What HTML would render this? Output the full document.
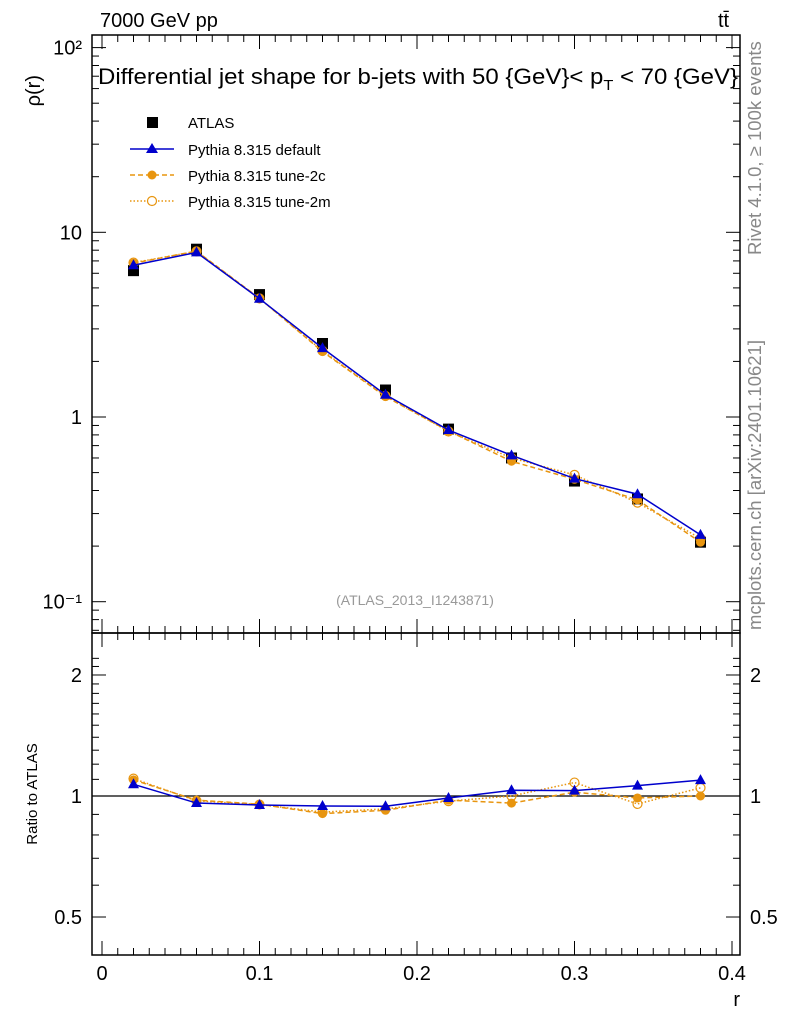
<!DOCTYPE html>
<html><head><meta charset="utf-8"><style>
body{margin:0;background:#fff}
svg{font-family:"Liberation Sans",sans-serif}
</style></head><body>
<svg id="c" width="786" height="1024" xmlns="http://www.w3.org/2000/svg">
<rect width="786" height="1024" fill="#fff"/>
<text x="100" y="27" font-size="20">7000 GeV pp</text>
<text x="718" y="27" font-size="20">tt̄</text>
<text x="98" y="84" font-size="22" textLength="640" lengthAdjust="spacingAndGlyphs">Differential jet shape for b-jets with 50 {GeV}&lt; p<tspan font-size="15" dy="6">T</tspan><tspan dy="-6"> &lt; 70 {GeV}</tspan></text>
<text x="415" y="605" font-size="14" fill="#999" text-anchor="middle">(ATLAS_2013_I1243871)</text>
<text transform="translate(761,255) rotate(-90)" font-size="18.5" fill="#888">Rivet 4.1.0, ≥ 100k events</text>
<text transform="translate(761,630) rotate(-90)" font-size="18.5" fill="#888">mcplots.cern.ch [arXiv:2401.10621]</text>
<text transform="translate(40,75) rotate(-90)" font-size="20" text-anchor="end">ρ(r)</text>
<text transform="translate(37,794) rotate(-90)" font-size="15" text-anchor="middle">Ratio to ATLAS</text>
<text x="740" y="1006" font-size="20" text-anchor="end">r</text>
<g id="legend">
<rect x="147" y="117" width="11" height="11" fill="#000"/>
<text x="188" y="128" font-size="15">ATLAS</text>
<line x1="130" y1="149" x2="174" y2="149" stroke="#00c" stroke-width="1.5"/>
<polygon points="152,143 158,153 146,153" fill="#00c"/>
<text x="188" y="155" font-size="15">Pythia 8.315 default</text>
<line x1="130" y1="175" x2="174" y2="175" stroke="#e8950f" stroke-width="1.5" stroke-dasharray="5,3"/>
<circle cx="152" cy="175" r="4.5" fill="#e8950f"/>
<text x="188" y="181" font-size="15">Pythia 8.315 tune-2c</text>
<line x1="130" y1="201" x2="174" y2="201" stroke="#e8950f" stroke-width="1.5" stroke-dasharray="1.5,2"/>
<circle cx="152" cy="201" r="4.5" fill="#fff" stroke="#e8950f" stroke-width="1.2"/>
<text x="188" y="207" font-size="15">Pythia 8.315 tune-2m</text>
</g>
<g id="g"></g>
</svg>
<script>
const rVals=[0.02,0.06,0.10,0.14,0.18,0.22,0.26,0.30,0.34,0.38];
const atlas=[6.2,8.1,4.6,2.5,1.4,0.86,0.6,0.45,0.36,0.21];
const pyDefault=[6.63,7.78,4.37,2.36,1.32,0.85,0.62,0.464,0.382,0.23];
const py2c=[6.8,7.91,4.39,2.26,1.29,0.84,0.576,0.46,0.356,0.21];
const py2m=[6.85,7.88,4.38,2.28,1.30,0.835,0.6,0.486,0.344,0.22];
const xTicks=[0,0.1,0.2,0.3,0.4];
const xTickLabels=["0","0.1","0.2","0.3","0.4"];
const yDecades=[-1,0,1,2];
const yDecadeLabels=["10⁻¹","1","10","10²"];
const ratioTicks=[0.5,1,2];
const ratioTickLabels=["0.5","1","2"];

const NS="http://www.w3.org/2000/svg";
const g=document.getElementById('g');
function el(t,a,p){const e=document.createElementNS(NS,t);for(const k in a)e.setAttribute(k,a[k]);(p||g).appendChild(e);return e;}
const L=92,R=740,T=35,MB=633,RB=955;
const X=v=>102+v*1575;
const Y=v=>417-Math.log10(v)*184.7;
const YR=v=>796-Math.log10(v)*402;

let f=el('rect',{x:L,y:T,width:R-L,height:MB-T,fill:'none',stroke:'#000','stroke-width':1.5});


f=el('rect',{x:L,y:MB,width:R-L,height:RB-MB,fill:'none',stroke:'#000','stroke-width':1.5});



for(let i=0;i<=41;i++){const v=i/100,x=X(v);if(x>R)break;const len=i%10==0?14:7;
 for(const[y0,d] of [[MB,-1],[T,1],[RB,-1],[MB,1]]) el('line',{x1:x,y1:y0,x2:x,y2:y0+d*len,stroke:'#000'});}
xTicks.forEach((v,i)=>{const t=el('text',{x:X(v),y:980,'font-size':20,'text-anchor':'middle'});t.textContent=xTickLabels[i];
 
 });
for(let d=-2;d<=2;d++)for(let m=1;m<10;m++){const v=m*Math.pow(10,d),y=Y(v);if(y<T||y>MB)continue;const len=m==1?14:7;
 el('line',{x1:L,y1:y,x2:L+len,y2:y,stroke:'#000'});el('line',{x1:R,y1:y,x2:R-len,y2:y,stroke:'#000'});}
yDecades.forEach((d,i)=>{const t=el('text',{x:82,y:Y(Math.pow(10,d))+7,'font-size':20,'text-anchor':'end'});t.textContent=yDecadeLabels[i];
 
 });
for(let v=0.5;v<=2.3;v+=0.1){const y=YR(v);if(y<MB||y>RB)continue;const maj=[0.5,1,2].some(q=>Math.abs(q-v)<1e-6);const len=maj?14:7;
 el('line',{x1:L,y1:y,x2:L+len,y2:y,stroke:'#000'});el('line',{x1:R,y1:y,x2:R-len,y2:y,stroke:'#000'});}
ratioTicks.forEach((v,i)=>{for(const [x,a] of [[82,'end'],[750,'start']]){const t=el('text',{x:x,y:YR(v)+7,'font-size':20,'text-anchor':a});t.textContent=ratioTickLabels[i];
 
 }});
el('line',{x1:L,y1:YR(1),x2:R,y2:YR(1),stroke:'#000','stroke-width':1.2});

function series(vals,color,dash,marker,name){
 const pts=rVals.map((r,i)=>X(r)+','+Y(vals[i])).join(' ');
 const rpts=rVals.map((r,i)=>X(r)+','+YR(vals[i]/atlas[i])).join(' ');
 let p=el('polyline',{points:pts,fill:'none',stroke:color,'stroke-width':1.5,'stroke-dasharray':dash});
 
 
 p=el('polyline',{points:rpts,fill:'none',stroke:color,'stroke-width':1.5,'stroke-dasharray':dash});
 
 
 rVals.forEach((r,i)=>{for(const y of [Y(vals[i]),YR(vals[i]/atlas[i])]){const x=X(r);let m;
  if(marker=='tri')m=el('polygon',{points:`${x},${y-6} ${x+5.5},${y+4} ${x-5.5},${y+4}`,fill:color});
  else if(marker=='dot')m=el('circle',{cx:x,cy:y,r:4.5,fill:color});
  else m=el('circle',{cx:x,cy:y,r:4.5,fill:'none',stroke:color,'stroke-width':1.2});
  
  }});
}
rVals.forEach((r,i)=>{const m=el('rect',{x:X(r)-5.5,y:Y(atlas[i])-5.5,width:11,height:11,fill:'#000'});
 
 });
series(py2m,'#e8950f','1.5,2','open','tune-2m');
series(py2c,'#e8950f','5,3','dot','tune-2c');
series(pyDefault,'#0000cc','','tri','default');
</script>
</body></html>
